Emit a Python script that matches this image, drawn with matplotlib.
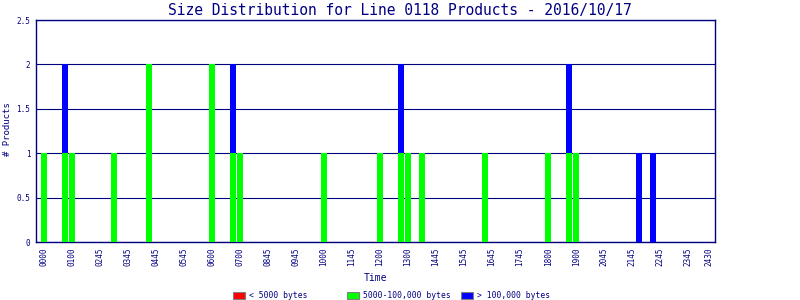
import numpy as np
import matplotlib
matplotlib.use('Agg')
import matplotlib.pyplot as plt
from matplotlib.patches import Rectangle

NAVY = '#000080'
RED = '#ff0000'
GREEN = '#00ff00'
BLUE = '#0000ff'

# 15-minute slots across the day (96 of them)
n_slots = 96
green_slots = [0, 3, 4, 10, 15, 24, 27, 28, 40, 48, 51, 52, 54, 63, 72, 75, 76]
green_counts = [1, 1, 1, 1, 2, 2, 1, 1, 1, 1, 1, 1, 1, 1, 1, 1, 1]
blue_slots = [3, 27, 51, 75, 85, 87]
blue_counts = [1, 1, 1, 1, 1, 1]
red_slots = []
red_counts = []

tick_labels = ['0000', '0100', '0245', '0345', '0445', '0545', '0600', '0700',
               '0845', '0945', '1000', '1145', '1200', '1300', '1445', '1545',
               '1645', '1745', '1800', '1900', '2045', '2145', '2245', '2345',
               '2430']
tick_slots = list(range(0, 96, 4)) + [95]

legend_labels = ['< 5000 bytes', '5000-100,000 bytes', '> 100,000 bytes']


def to_series(slots, counts):
    arr = np.zeros(n_slots)
    arr[slots] = counts
    return arr


red = to_series(red_slots, red_counts)
green = to_series(green_slots, green_counts)
blue = to_series(blue_slots, blue_counts)
x = np.arange(n_slots)

plt.rcParams['font.family'] = 'DejaVu Sans Mono'
fig = plt.figure(figsize=(8, 3), dpi=100)
ax = fig.add_axes([0.045, 0.193, 0.849, 0.74])

w = 0.86
ax.bar(x, red, width=w, color=RED, zorder=3)
ax.bar(x, green, width=w, bottom=red, color=GREEN, zorder=3)
ax.bar(x, blue, width=w, bottom=red + green, color=BLUE, zorder=3)

ax.set_xlim(-1.14, 95.86)
ax.set_ylim(0, 2.5)
ax.set_yticks([0, 0.5, 1, 1.5, 2, 2.5])
ax.set_yticklabels(['0', '0.5', '1', '1.5', '2', '2.5'], fontsize=5.5, color=NAVY)
ax.set_xticks(tick_slots)
ax.set_xticklabels(tick_labels, rotation=90, fontsize=5.5, color=NAVY)
ax.tick_params(length=0, pad=4)
ax.grid(axis='y', color=NAVY, linewidth=0.8, zorder=1)
for s in ax.spines.values():
    s.set_color(NAVY)
    s.set_linewidth(1.0)

fig.text(0.5, 1 - 10 / 300, 'Size Distribution for Line 0118 Products - 2016/10/17',
         fontsize=10.5, color=NAVY, ha='center', va='center')
ax.set_xlabel('Time', fontsize=7, color=NAVY, labelpad=5)
fig.text(0.009, 0.57, '# Products', rotation=90, fontsize=6.5, color=NAVY,
         ha='center', va='center')

# legend row along the bottom
box_x = [233, 347, 461]
for bx, col, lab in zip(box_x, [RED, GREEN, BLUE], legend_labels):
    fig.add_artist(Rectangle((bx / 800, 1 - 299 / 300), 12 / 800, 7 / 300,
                             facecolor=col, edgecolor='#808080', linewidth=0.8,
                             transform=fig.transFigure))
    fig.text((bx + 16) / 800, 1 - 295.5 / 300, lab, fontsize=5.8, color=NAVY,
             ha='left', va='center')

fig.savefig('out.png', dpi=100)
